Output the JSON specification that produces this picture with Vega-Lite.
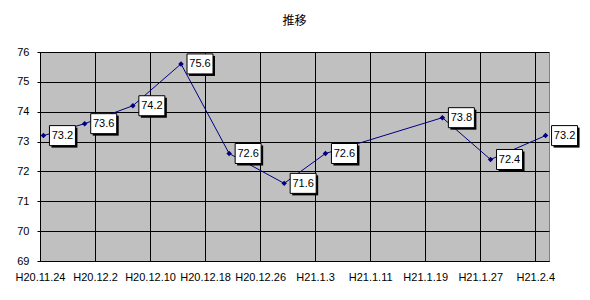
{
  "$schema": "https://vega.github.io/schema/vega-lite/v6.json",
  "autosize": "none",
  "width": 509,
  "height": 209,
  "padding": {"left": 40, "top": 52, "right": 41, "bottom": 39},
  "background": "white",
  "title": {"text": "推移", "font": "Noto Sans CJK JP", "fontSize": 12, "fontWeight": "normal", "color": "black", "offset": 18},
  "data": {"values": [
    {"date": "2008-11-24T12:00:00Z", "value": 73.2},
    {"date": "2008-11-30T12:00:00Z", "value": 73.6},
    {"date": "2008-12-07T12:00:00Z", "value": 74.2},
    {"date": "2008-12-14T12:00:00Z", "value": 75.6},
    {"date": "2008-12-21T12:00:00Z", "value": 72.6},
    {"date": "2008-12-29T12:00:00Z", "value": 71.6},
    {"date": "2009-01-04T12:00:00Z", "value": 72.6},
    {"date": "2009-01-21T12:00:00Z", "value": 73.8},
    {"date": "2009-01-28T12:00:00Z", "value": 72.4},
    {"date": "2009-02-05T12:00:00Z", "value": 73.2}
  ]},
  "encoding": {
    "x": {
      "field": "date", "type": "temporal",
      "scale": {"type": "utc", "domain": [
        {"year": 2008, "month": 11, "date": 24, "utc": true},
        {"year": 2009, "month": 2, "date": 6, "utc": true}
      ]},
      "axis": {
        "title": null,
        "values": [
          {"year": 2008, "month": 11, "date": 24, "utc": true},
          {"year": 2008, "month": 12, "date": 2, "utc": true},
          {"year": 2008, "month": 12, "date": 10, "utc": true},
          {"year": 2008, "month": 12, "date": 18, "utc": true},
          {"year": 2008, "month": 12, "date": 26, "utc": true},
          {"year": 2009, "month": 1, "date": 3, "utc": true},
          {"year": 2009, "month": 1, "date": 11, "utc": true},
          {"year": 2009, "month": 1, "date": 19, "utc": true},
          {"year": 2009, "month": 1, "date": 27, "utc": true},
          {"year": 2009, "month": 2, "date": 4, "utc": true}
        ],
        "labelExpr": "'H' + (utcyear(datum.value) - 1988) + '.' + (utcmonth(datum.value) + 1) + '.' + utcdate(datum.value)",
        "ticks": false,
        "labelPadding": 10,
        "labelFlush": false,
        "labelOverlap": false,
        "labelBound": false
      }
    },
    "y": {
      "field": "value", "type": "quantitative",
      "scale": {"domain": [69, 76], "zero": false, "nice": false},
      "axis": {"title": null, "values": [69, 70, 71, 72, 73, 74, 75, 76], "tickSize": 3, "labelPadding": 8}
    }
  },
  "layer": [
    {"mark": {"type": "line", "color": "#000080", "strokeWidth": 1}},
    {"mark": {"type": "point", "shape": "diamond", "filled": true, "color": "#000080", "size": 30, "opacity": 1}},
    {"mark": {"type": "point", "shape": "M0.8,-0.8H3.4V1.2H0.8Z", "filled": true, "fill": "black", "strokeWidth": 0, "size": 400, "opacity": 1}},
    {"mark": {"type": "point", "shape": "M0.6,-1H3.2V1H0.6Z", "filled": true, "fill": "white", "stroke": "black", "strokeWidth": 1, "size": 400, "opacity": 1}},
    {"mark": {"type": "text", "align": "center", "baseline": "middle", "dx": 19, "dy": 0.5, "font": "Liberation Sans, Arial", "fontSize": 11, "color": "black"},
     "encoding": {"text": {"field": "value", "type": "quantitative", "format": ".1f"}}}
  ],
  "config": {
    "view": {"fill": "#C0C0C0", "stroke": "#808080", "strokeWidth": 1},
    "axis": {
      "domainColor": "black", "domainWidth": 1,
      "gridColor": "black", "gridOpacity": 1, "gridWidth": 1, "grid": true,
      "tickColor": "black",
      "labelFont": "Liberation Sans, Arial",
      "labelFontSize": 11, "labelColor": "black"
    }
  }
}
